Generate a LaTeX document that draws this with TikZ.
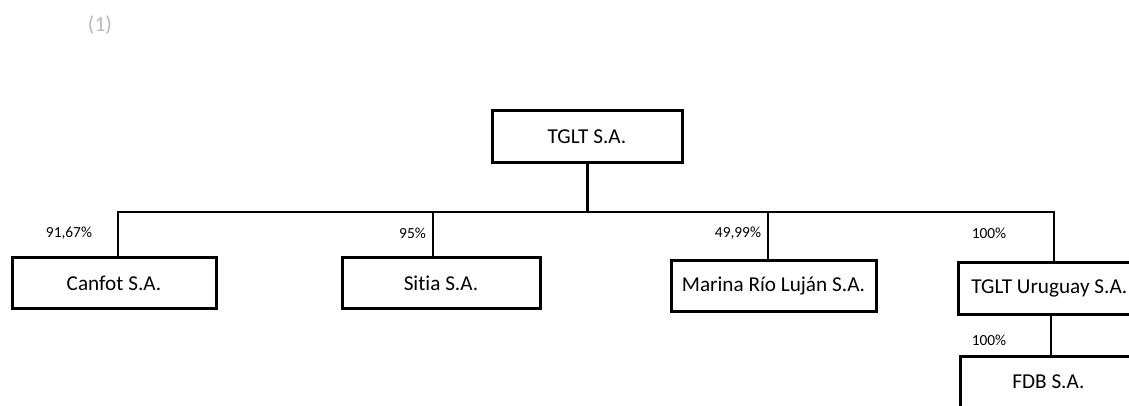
\documentclass[tikz,border=0pt]{standalone}
\usepackage{fontspec}
\setmainfont{Carlito}[Ligatures={NoCommon,NoDiscretionary}]
\usepackage{xcolor}
\tikzset{box/.style={draw,line width=1.5pt,minimum height=25pt,inner sep=0pt,
   font=\fontsize{10.6}{12}\selectfont},
 edgetext/.style={anchor=west,minimum height=25pt,inner ysep=0pt,
   font=\fontsize{10.6}{12}\selectfont},
 frame/.style={draw,line width=1.5pt},
 pct/.style={inner sep=0pt,font=\fontsize{7.7}{9}\selectfont},
 link/.style={draw,line width=0.7pt},
 trunk/.style={draw,line width=1.5pt},
 }

\begin{document}
\begin{tikzpicture}[x=0.5pt,y=-0.5pt]
        \useasboundingbox (0,0) rectangle (1129,406);
        \clip (0,0) rectangle (1129,406);
        \node[text=gray!55,font=\fontsize{10.8}{12}\selectfont] (note) at (100,25) {(1)};

        \node[box,minimum width=95pt,minimum height=26pt] (top) at (587,137) {TGLT S.A.};
        \node[box,minimum width=102pt] (canfot) at (114,283) {Canfot S.A.};
        \node[box,minimum width=99pt] (sitia) at (441,283) {Sitia S.A.};
        \node[box,minimum width=102.5pt] (marina) at (773.5,286) {Marina Río Luján S.A.};
        \node[edgetext,inner xsep=6.5pt,minimum height=25.5pt] (uruguay) at (958,288.5) {TGLT Uruguay S.A.};
        \node[edgetext,inner xsep=26pt] (fdb) at (960,382) {FDB S.A.};
        \draw[frame] (uruguay.north west) rectangle ([xshift=30pt]uruguay.south east);
        \draw[frame] (fdb.north west) rectangle ([xshift=30pt]fdb.south east);

        \coordinate (bus) at (587,212);
        \draw[trunk] (top.south) -- (bus);
        \draw[link] ([xshift=2pt]canfot.north) |- (bus) -| ([xshift=48pt]uruguay.north west);
        \draw[link] ([xshift=-4pt]sitia.north) -- ([xshift=-4pt]sitia.north |- bus);
        \draw[link] ([xshift=-2.75pt]marina.north) -- ([xshift=-2.75pt]marina.north |- bus);
        \draw[link] ([xshift=46.5pt]uruguay.south west) -- ([xshift=46.5pt]uruguay.south west |- fdb.north);

        \node[pct] (p1) at (69,233) {91,67\%};
        \node[pct] (p2) at (412.5,233) {95\%};
        \node[pct] (p3) at (738,233) {49,99\%};
        \node[pct] (p4) at (989,233) {100\%};
        \node[pct] (p5) at (989,340) {100\%};
    \end{tikzpicture}
\end{document}
